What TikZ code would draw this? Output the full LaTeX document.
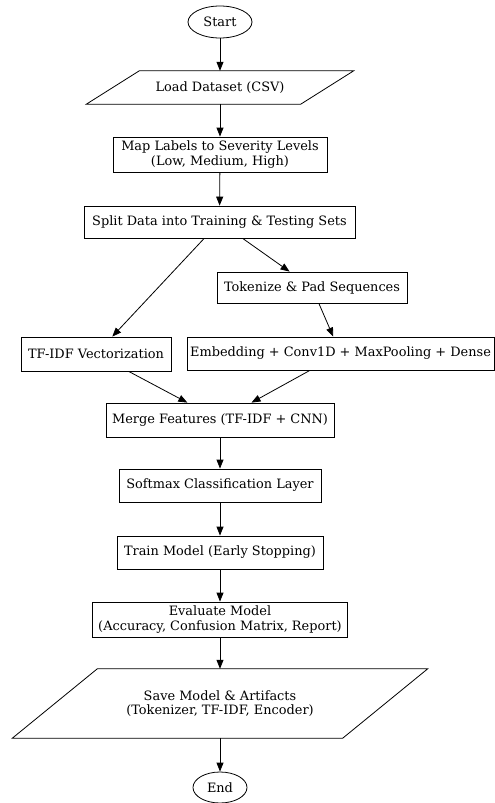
\documentclass[tikz,border=0pt]{standalone}
\usepackage{fontspec}
\setmainfont{DejaVu Serif}
\usetikzlibrary{shapes.geometric,arrows.meta}
\begin{document}
\begin{tikzpicture}[x=1pt,y=-1pt,
  txt/.style={align=center,inner sep=0pt,font=\fontsize{12.9}{14.5}\selectfont},
  box/.style={txt,draw,line width=0.8pt},
  oval/.style={txt,draw,ellipse,line width=0.8pt},
  ghost/.style={txt,draw=none},
  shp/.style={line width=0.8pt},
  arr/.style={line width=0.8pt,-{Triangle[length=9pt,width=7pt]}}]
\useasboundingbox (0,0) rectangle (495,803);

\node[oval,minimum width=64pt,minimum height=32pt] (start) at (220,22) {Start};
\node[ghost,minimum width=214pt,minimum height=33pt] (load) at (220,87.5) {Load Dataset (CSV)};
\draw[shp] ([xshift=-26.5pt]load.south west) -- ([xshift=-26.5pt]load.south east)
  -- ([xshift=26.5pt]load.north east) -- ([xshift=26.5pt]load.north west) -- cycle;
\node[box,minimum width=214pt,minimum height=35pt] (map) at (220,154.5) {Map Labels to Severity Levels\\(Low, Medium, High)};
\node[box,minimum width=271pt,minimum height=32pt] (split) at (219.5,222) {Split Data into Training \& Testing Sets};
\node[box,minimum width=190pt,minimum height=31pt] (tok) at (312,287.5) {Tokenize \& Pad Sequences};
\node[box,minimum width=150pt,minimum height=34pt] (tfidf) at (96,354) {TF-IDF Vectorization};
\node[box,minimum width=307pt,minimum height=33pt] (emb) at (340.5,353.5) {Embedding + Conv1D + MaxPooling + Dense};
\node[box,minimum width=228pt,minimum height=34pt] (merge) at (220,420) {Merge Features (TF-IDF + CNN)};
\node[box,minimum width=202pt,minimum height=33pt] (soft) at (220,485.5) {Softmax Classification Layer};
\node[box,minimum width=206pt,minimum height=33pt] (train) at (220,552.5) {Train Model (Early Stopping)};
\node[box,minimum width=255pt,minimum height=35pt] (eval) at (220,619.5) {Evaluate Model\\(Accuracy, Confusion Matrix, Report)};
\node[ghost,minimum width=330pt,minimum height=69pt] (save) at (220,703.5) {Save Model \& Artifacts\\(Tokenizer, TF-IDF, Encoder)};
\draw[shp] ([xshift=-42.5pt]save.south west) -- ([xshift=-42.5pt]save.south east)
  -- ([xshift=42.5pt]save.north east) -- ([xshift=42.5pt]save.north west) -- cycle;
\node[oval,minimum width=54pt,minimum height=31pt] (end) at (220,787.5) {End};

\draw[arr] (start) -- (load);
\draw[arr] (load) -- (map);
\draw[arr] (map) -- (split);
\draw[arr] (split) -- (tfidf);
\draw[arr] (split) -- (tok);
\draw[arr] (tok) -- (emb);
\draw[arr] (tfidf) -- (merge);
\draw[arr] (emb) -- (merge);
\draw[arr] (merge) -- (soft);
\draw[arr] (soft) -- (train);
\draw[arr] (train) -- (eval);
\draw[arr] (eval) -- (save);
\draw[arr] (save) -- (end);
\end{tikzpicture}
\end{document}
